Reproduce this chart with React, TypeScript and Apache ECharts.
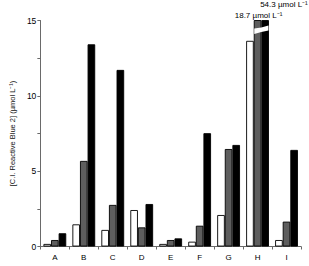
import React, { useEffect, useRef } from "react";
import * as echarts from "echarts";

// Dye concentration per sample, three conditions (open, hatched, solid bars)
const categories = ["A", "B", "C", "D", "E", "F", "G", "H", "I"];
const openValues = [0.17, 1.47, 1.1, 2.42, 0.17, 0.32, 2.09, 13.65, 0.43];
const hatchedValues = [0.43, 5.68, 2.76, 1.27, 0.43, 1.38, 6.47, 18.7, 1.65];
const solidValues = [0.88, 13.42, 11.72, 2.82, 0.54, 7.52, 6.74, 54.3, 6.41];
const yTicks = [0, 5, 10, 15];

// Off-scale bars in sample H, annotated with their actual values
const brokenCategory = "H";
const hatchedNote = "18.7 µmol L⁻¹";
const solidNote = "54.3 µmol L⁻¹";

const FONT = "'Liberation Sans', Arial, Helvetica, sans-serif";
const BAR_W = 7.6;

export default function App() {
  const ref = useRef<HTMLDivElement>(null);

  useEffect(() => {
    if (!ref.current) return;
    const chart = echarts.init(ref.current, null, { renderer: "svg" });
    const axisColor = "#6a6a6a";

    chart.setOption({
      animation: false,
      backgroundColor: "#fff",
      textStyle: { fontFamily: FONT },
      grid: { left: 33, right: 8, top: 20.5, bottom: 19.5, containLabel: false },
      xAxis: {
        type: "category",
        data: categories,
        axisLine: { lineStyle: { color: axisColor, width: 1 } },
        axisTick: { show: true, length: 3, inside: false, lineStyle: { color: axisColor } },
        axisLabel: { color: "#000", fontSize: 8, margin: 7, fontFamily: FONT },
        splitLine: { show: false },
      },
      yAxis: {
        type: "value",
        min: 0,
        max: 15,
        interval: 2.5,
        name: "[C.I. Reactive Blue 2] (µmol L⁻¹)",
        nameLocation: "middle",
        nameRotate: 90,
        nameGap: 24,
        nameTextStyle: { fontSize: 7.5, color: "#111", fontFamily: FONT },
        axisLine: { show: true, lineStyle: { color: axisColor, width: 1 } },
        axisTick: { show: true, length: 3, lineStyle: { color: axisColor } },
        axisLabel: {
          color: "#000",
          fontSize: 8.5,
          margin: 4,
          fontFamily: FONT,
          formatter: (v: number) => (yTicks.includes(v) ? String(v) : ""),
        },
        splitLine: { show: false },
      },
      series: [
        {
          name: "open",
          type: "bar",
          data: openValues,
          barWidth: BAR_W,
          barGap: "0%",
          clip: true,
          itemStyle: { color: "#ffffff", borderColor: "#000", borderWidth: 0.9 },
        },
        {
          name: "hatched",
          type: "bar",
          data: hatchedValues,
          barWidth: BAR_W,
          barGap: "0%",
          clip: true,
          itemStyle: { color: "#5e5e5e", borderColor: "#000", borderWidth: 0.9 },
        },
        {
          name: "solid",
          type: "bar",
          data: solidValues,
          barWidth: BAR_W,
          barGap: "0%",
          clip: true,
          itemStyle: { color: "#000000", borderColor: "#000", borderWidth: 0.9 },
        },
      ],
    });

    // Break marks and value notes for the off-scale bars
    const top = chart.convertToPixel({ gridIndex: 0 }, [brokenCategory, 15]) as number[];
    const cx = top[0];
    const yTop = top[1];
    const hatchedX = cx;
    const solidX = cx + BAR_W;
    const left = hatchedX - BAR_W / 2 + 0.5;
    const right = solidX + BAR_W / 2 - 0.5;
    const mid = (left + right) / 2;

    chart.setOption({
      graphic: [
        {
          type: "polygon",
          silent: true,
          shape: {
            points: [
              [left, yTop + 8],
              [mid, yTop + 7],
              [right, yTop + 5],
              [right, yTop + 10],
              [mid, yTop + 11.5],
              [left, yTop + 13.5],
            ],
          },
          style: { fill: "#ffffff" },
          z: 100,
        },
        {
          type: "text",
          silent: true,
          x: hatchedX + 1,
          y: yTop - 5.5,
          style: {
            text: hatchedNote,
            fontSize: 8,
            fontFamily: FONT,
            fill: "#000",
            textAlign: "center",
            textVerticalAlign: "middle",
          },
          z: 100,
        },
        {
          type: "text",
          silent: true,
          x: solidX - 5,
          y: yTop - 16,
          style: {
            text: solidNote,
            fontSize: 8,
            fontFamily: FONT,
            fill: "#000",
            textAlign: "left",
            textVerticalAlign: "middle",
          },
          z: 100,
        },
      ],
    });

    return () => chart.dispose();
  }, []);

  return <div ref={ref} style={{ width: 309, height: 266, position: "absolute", left: 0, top: 0 }} />;
}
